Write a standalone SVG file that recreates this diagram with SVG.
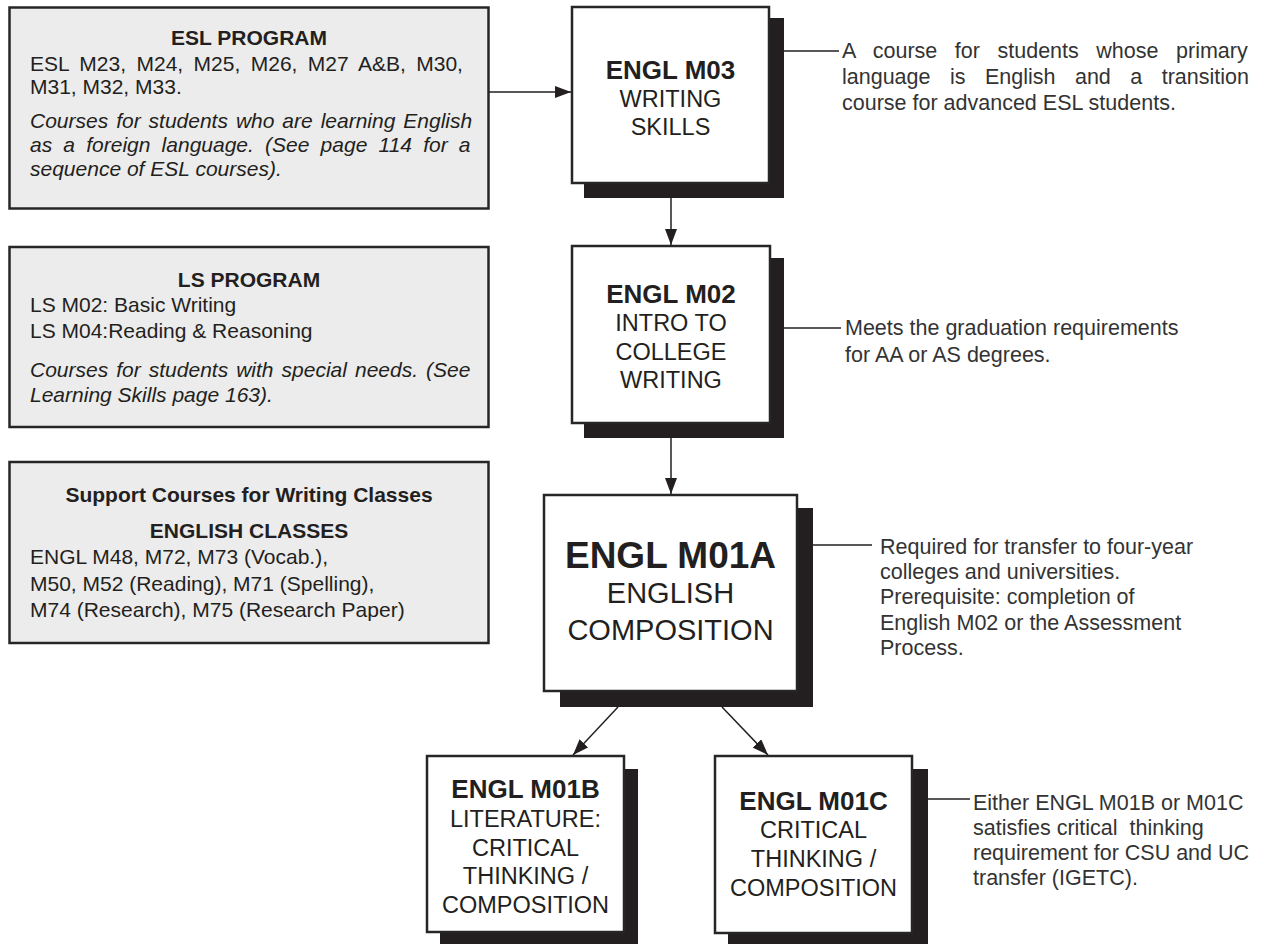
<svg xmlns="http://www.w3.org/2000/svg" width="1264" height="944" viewBox="0 0 1264 944">
<defs>
<style>
.t{font-family:"Liberation Sans",Arial,Helvetica,sans-serif;fill:#231f20}
.gbox{fill:#ececec;stroke:#262626;stroke-width:2.5}
.box{fill:#ffffff;stroke:#262626;stroke-width:2.5}
.shadow{fill:#231f20}
.lr{font-size:21px}
.lb{font-size:21px;font-weight:bold;text-anchor:middle}
.li{font-size:21px;font-style:italic}
.nb{font-size:26px;font-weight:bold;text-anchor:middle}
.nr{font-size:23.5px;text-anchor:middle}
.ann{font-size:21.5px;fill:#333333}
.link{stroke:#231f20;stroke-width:1.5;fill:none}
.arr{marker-end:url(#ah)}
</style>
<marker id="ah" markerUnits="userSpaceOnUse" markerWidth="16" markerHeight="12" refX="16" refY="6" orient="auto">
<path d="M0,0 L16,6 L0,12 Z" fill="#231f20"/>
</marker>
</defs>
<rect width="1264" height="944" fill="#ffffff"/>

<g id="esl-program">
<rect class="gbox" x="9.5" y="7.5" width="479" height="201"/>
<text class="t lb" x="249" y="45">ESL PROGRAM</text>
<text class="t lr" x="30" y="71" word-spacing="4.6">ESL M23, M24, M25, M26, M27 A&amp;B, M30,</text>
<text class="t lr" x="30" y="94">M31, M32, M33.</text>
<text class="t li" x="30" y="128" word-spacing="2.1">Courses for students who are learning English</text>
<text class="t li" x="30" y="152" word-spacing="5.35">as a foreign language. (See page 114 for a</text>
<text class="t li" x="30" y="176">sequence of ESL courses).</text>
</g>

<g id="ls-program">
<rect class="gbox" x="9.5" y="247" width="479" height="180"/>
<text class="t lb" x="249" y="287">LS PROGRAM</text>
<text class="t lr" x="30" y="312">LS M02: Basic Writing</text>
<text class="t lr" x="30" y="338">LS M04:Reading &amp; Reasoning</text>
<text class="t li" x="30" y="377" word-spacing="2.2">Courses for students with special needs. (See</text>
<text class="t li" x="30" y="402">Learning Skills page 163).</text>
</g>

<g id="support-courses">
<rect class="gbox" x="9.5" y="462" width="479" height="181"/>
<text class="t lb" x="249" y="502">Support Courses for Writing Classes</text>
<text class="t lb" x="249" y="538">ENGLISH CLASSES</text>
<text class="t lr" x="30" y="564">ENGL M48, M72, M73 (Vocab.),</text>
<text class="t lr" x="30" y="591">M50, M52 (Reading), M71 (Spelling),</text>
<text class="t lr" x="30" y="617">M74 (Research), M75 (Research Paper)</text>
</g>

<g id="engl-m03">
<rect class="shadow" x="584" y="18" width="200" height="180"/>
<rect class="box" x="572" y="7" width="197" height="176"/>
<text class="t nb" x="670.5" y="79">ENGL M03</text>
<text class="t nr" x="670.5" y="107">WRITING</text>
<text class="t nr" x="670.5" y="135">SKILLS</text>
</g>

<g id="engl-m02">
<rect class="shadow" x="584" y="258" width="200" height="180"/>
<rect class="box" x="572" y="246" width="198" height="177"/>
<text class="t nb" x="671" y="303">ENGL M02</text>
<text class="t nr" x="671" y="331">INTRO TO</text>
<text class="t nr" x="671" y="360">COLLEGE</text>
<text class="t nr" x="671" y="388">WRITING</text>
</g>

<g id="engl-m01a">
<rect class="shadow" x="560" y="508" width="253" height="199"/>
<rect class="box" x="544" y="495" width="253" height="196"/>
<text class="t" x="670.5" y="568" font-size="37" font-weight="bold" text-anchor="middle">ENGL M01A</text>
<text class="t" x="670.5" y="603" font-size="29" text-anchor="middle">ENGLISH</text>
<text class="t" x="670.5" y="640" font-size="29" text-anchor="middle">COMPOSITION</text>
</g>

<g id="engl-m01b">
<rect class="shadow" x="440" y="769" width="198" height="190"/>
<rect class="box" x="427" y="756" width="197" height="176"/>
<text class="t nb" x="525.5" y="798">ENGL M01B</text>
<text class="t nr" x="525.5" y="827">LITERATURE:</text>
<text class="t nr" x="525.5" y="856">CRITICAL</text>
<text class="t nr" x="525.5" y="884">THINKING /</text>
<text class="t nr" x="525.5" y="913">COMPOSITION</text>
</g>

<g id="engl-m01c">
<rect class="shadow" x="728" y="769" width="200" height="190"/>
<rect class="box" x="715" y="756" width="197" height="177"/>
<text class="t nb" x="813.5" y="810">ENGL M01C</text>
<text class="t nr" x="813.5" y="838">CRITICAL</text>
<text class="t nr" x="813.5" y="867">THINKING /</text>
<text class="t nr" x="813.5" y="896">COMPOSITION</text>
</g>

<g id="annotations">
<text class="t ann" x="842" y="58" font-size="22" word-spacing="11.6">A course for students whose primary</text>
<text class="t ann" x="842" y="84" font-size="22" word-spacing="13.5">language is English and a transition</text>
<text class="t ann" x="842" y="110" font-size="22">course for advanced ESL students.</text>
<text class="t ann" x="845" y="335">Meets the graduation requirements</text>
<text class="t ann" x="845" y="362">for AA or AS degrees.</text>
<text class="t ann" x="880" y="554">Required for transfer to four-year</text>
<text class="t ann" x="880" y="579">colleges and universities.</text>
<text class="t ann" x="880" y="604">Prerequisite: completion of</text>
<text class="t ann" x="880" y="630">English M02 or the Assessment</text>
<text class="t ann" x="880" y="655">Process.</text>
<text class="t ann" x="973" y="810">Either ENGL M01B or M01C</text>
<text class="t ann" x="973" y="835">satisfies critical&#160; thinking</text>
<text class="t ann" x="973" y="860">requirement for CSU and UC</text>
<text class="t ann" x="973" y="885">transfer (IGETC).</text>
</g>

<g id="connectors">
<line class="link arr" x1="489" y1="92" x2="571" y2="92"/>
<line class="link arr" x1="671" y1="198" x2="671" y2="245"/>
<line class="link arr" x1="671" y1="438" x2="671" y2="494"/>
<line class="link arr" x1="618" y1="707" x2="573" y2="755"/>
<line class="link arr" x1="722" y1="707" x2="768" y2="755"/>
<line class="link" x1="784" y1="51" x2="839" y2="51"/>
<line class="link" x1="784" y1="328" x2="841" y2="328"/>
<line class="link" x1="813" y1="545" x2="872" y2="545"/>
<line class="link" x1="928" y1="799" x2="970" y2="799"/>
</g>
</svg>
